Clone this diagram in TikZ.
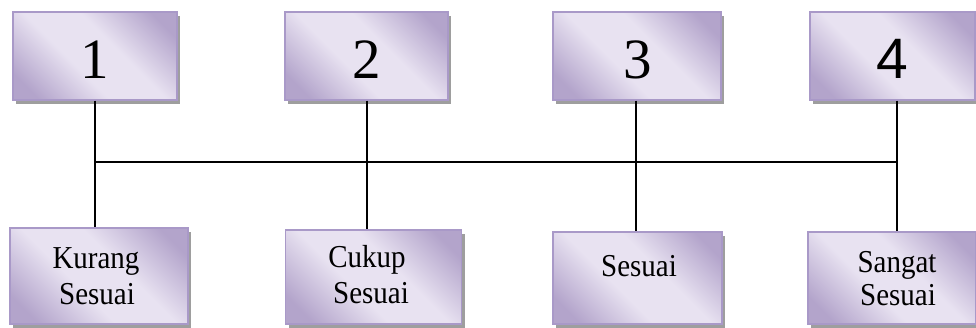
\documentclass[tikz,border=0pt]{standalone}
\usepackage{fontspec}
\setmainfont{Liberation Serif}
\newfontfamily\sansdigit{Liberation Sans}
\usetikzlibrary{shadows}
\definecolor{lavL}{HTML}{E8E2F1}
\definecolor{lavD}{HTML}{B3A4CB}
\definecolor{lavB}{HTML}{A999C8}
\definecolor{shd}{HTML}{9E9E9E}
\pgfdeclarehorizontalshading{lavshade}{100bp}{color(0bp)=(lavD); color(22bp)=(lavD); color(42bp)=(lavL); color(58bp)=(lavL); color(78bp)=(lavD); color(100bp)=(lavD)}
\tikzset{
  boxst/.style={draw=lavB, line width=1.2pt, rectangle, inner sep=0pt,
    shading=lavshade, shading angle=45,
    general shadow={fill=shd, shadow xshift=3pt, shadow yshift=-4pt}},
  numst/.style={font=\fontsize{57}{60}\selectfont, inner sep=0pt, anchor=base},
  lblst/.style={font=\fontsize{29}{34}\selectfont, inner sep=0pt, anchor=base, yscale=1.1, transform shape},
  linest/.style={line width=1.4pt, black}
}
\begin{document}
\begin{tikzpicture}[x=1pt, y=-1pt]
\useasboundingbox (0,0) rectangle (976,327);
% top boxes
\node[boxst, minimum width=164, minimum height=88] (t1) at (95,56) {};
\node[boxst, minimum width=163, minimum height=88] (t2) at (366.5,56) {};
\node[boxst, minimum width=168, minimum height=88] (t3) at (637,56) {};
\node[boxst, minimum width=165, minimum height=88] (t4) at (892.5,56) {};
% bottom boxes
\node[boxst, minimum width=178, minimum height=96] (b1) at (99,276) {};
\node[boxst, minimum width=176, minimum height=94] (b2) at (373.5,277) {};
\node[boxst, minimum width=169, minimum height=92] (b3) at (637.5,278) {};
\node[boxst, minimum width=168, minimum height=92] (b4) at (892,278) {};
% junctions on bar
\coordinate (j1) at (95,162);
\coordinate (j2) at (367,162);
\coordinate (j3) at (636,162);
\coordinate (j4) at (897,162);
% connectors
\draw[linest] (j1) -- (j4);
\draw[linest] (t1.south -| j1) -- (b1.north -| j1);
\draw[linest] (t2.south -| j2) -- (b2.north -| j2);
\draw[linest] (t3.south -| j3) -- (b3.north -| j3);
\draw[linest] (t4.south -| j4) -- (b4.north -| j4);
% numbers
\node[numst] (n1) at (95,78) {1};
\node[numst] (n2) at (367,78) {2};
\node[numst] (n3) at (637.5,78) {3};
\node[numst] (n4) at (892,78) {\sansdigit 4};
% labels
\node[lblst] (l1a) at (96,268) {Kurang};
\node[lblst] (l1b) at (97,304) {Sesuai};
\node[lblst] (l2a) at (367,267) {Cukup};
\node[lblst] (l2b) at (371,303) {Sesuai};
\node[lblst] (l3a) at (639,276) {Sesuai};
\node[lblst] (l4a) at (897,272) {Sangat};
\node[lblst] (l4b) at (898,305) {Sesuai};
\end{tikzpicture}
\end{document}
